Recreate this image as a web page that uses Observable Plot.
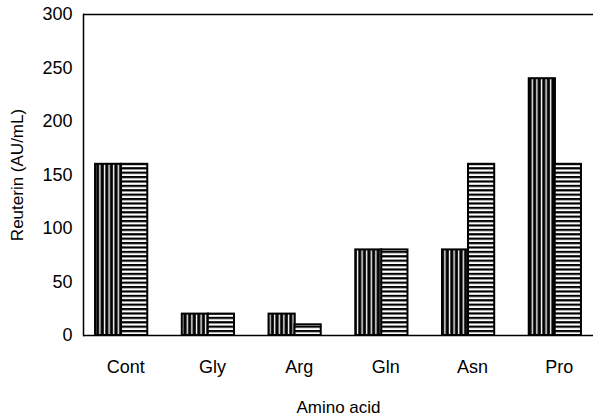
<!DOCTYPE html>
<html><head><meta charset="utf-8">
<script src="https://cdn.jsdelivr.net/npm/d3@7"></script>
<script src="https://cdn.jsdelivr.net/npm/@observablehq/plot@0.6"></script>
<style>
body{margin:0;background:#fff}
svg{font-family:"Liberation Sans",Arial,sans-serif}
</style>
</head><body><div id="chart"></div>
<script>
const categories = ["Cont", "Gly", "Arg", "Gln", "Asn", "Pro"];
const verticalSeries = [160, 20, 20, 80, 80, 240];
const horizontalSeries = [160, 20, 10, 80, 160, 160];
const yTicks = [0, 50, 100, 150, 200, 250, 300];
const yLabel = "Reuterin (AU/mL)";
const xLabel = "Amino acid";

const vData = categories.map((c, i) => ({category: c, value: verticalSeries[i]}));
const hData = categories.map((c, i) => ({category: c, value: horizontalSeries[i]}));

const chart = Plot.plot({
  width: 593, height: 415,
  marginTop: 14, marginBottom: 80, marginLeft: 83, marginRight: 0,
  style: {fontFamily: '"Liberation Sans", Arial, sans-serif', fontSize: "17px", color: "black", background: "white"},
  x: {domain: categories, paddingInner: 0.398, paddingOuter: 0.139, round: false},
  y: {domain: [0, 300]},
  marks: [
    Plot.barY(vData, {x: "category", y: "value", fill: "url(#vstripes)", stroke: "black", strokeWidth: 2, insetRight: 26}),
    Plot.barY(hData, {x: "category", y: "value", fill: "url(#hstripes)", stroke: "black", strokeWidth: 2, insetLeft: 26}),
    Plot.ruleY([0, 300], {stroke: "black", strokeWidth: 1.5}),
    Plot.frame({anchor: "left", stroke: "black", strokeWidth: 1.5}),
    Plot.axisX({tickSize: 0, tickPadding: 25, fontSize: 18, dx: 4, label: null}),
    Plot.axisX({ticks: [], label: xLabel, labelAnchor: "center", labelOffset: 77, labelArrow: "none", fontSize: 17}),
    Plot.axisY({ticks: yTicks, tickSize: 0, tickPadding: 11, fontSize: 18, label: null}),
    Plot.axisY({ticks: [], label: yLabel, labelAnchor: "center", labelOffset: 73, labelArrow: "none", fontSize: 17})
  ]
});

const svg = d3.select(chart);
const defs = svg.insert("defs", ":first-child");
const vp = defs.append("pattern").attr("id", "vstripes").attr("patternUnits", "userSpaceOnUse")
  .attr("width", 4.6).attr("height", 10);
vp.append("rect").attr("width", 4.6).attr("height", 10).attr("fill", "black");
vp.append("rect").attr("x", 2.6).attr("width", 1.4).attr("height", 10).attr("fill", "white");
const hp = defs.append("pattern").attr("id", "hstripes").attr("patternUnits", "userSpaceOnUse")
  .attr("width", 10).attr("height", 4.4);
hp.append("rect").attr("width", 10).attr("height", 4.4).attr("fill", "white");
hp.append("rect").attr("width", 10).attr("height", 2.2).attr("fill", "black");

document.getElementById("chart").appendChild(chart);
</script>
</body></html>
